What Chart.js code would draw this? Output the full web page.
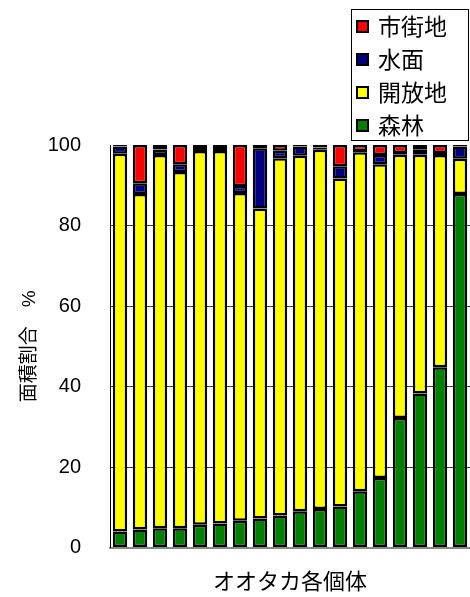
<!DOCTYPE html>
<html>
<head>
<meta charset="utf-8">
<script src="https://cdn.jsdelivr.net/npm/chart.js@4"></script>
<style>
  html, body { margin: 0; padding: 0; background: #fff; }
  #wrap { width: 470px; height: 597px; position: relative; }
</style>
</head>
<body>
<div id="wrap"><canvas id="chart"></canvas></div>
<script>
// one bar per goshawk individual, values in % of home range area
const individuals = ["1", "2", "3", "4", "5", "6", "7", "8", "9", "10", "11", "12", "13", "14", "15", "16", "17", "18"];
const forest = [4.0, 4.5, 4.8, 4.8, 5.7, 6.0, 6.7, 7.2, 8.0, 9.0, 9.6, 10.2, 14.0, 17.3, 32.2, 38.3, 44.8, 87.8];
const openLand = [93.8, 83.3, 92.7, 88.5, 92.8, 92.5, 81.4, 77.0, 88.7, 88.3, 89.2, 81.5, 84.2, 77.9, 65.4, 59.3, 52.7, 8.8];
const water = [1.8, 2.7, 1.4, 1.9, 1.0, 0.5, 1.7, 15.0, 1.9, 2.3, 0.6, 3.0, 0.3, 2.3, 0.4, 1.2, 0.5, 3.0];
const urban = [0.4, 9.5, 1.1, 4.8, 0.5, 1.0, 10.2, 0.8, 1.4, 0.4, 0.6, 5.3, 1.5, 2.5, 2.0, 1.2, 2.0, 0.4];
const yTicks = [0, 20, 40, 60, 80, 100];

const FONT = "'Liberation Sans', Arial, 'Noto Sans CJK JP', sans-serif";

function segment(label, data, color) {
  return {
    label,
    data,
    backgroundColor: color,
    borderColor: "#000",
    borderWidth: 2.5,
    borderSkipped: false,
    barPercentage: 0.72,
    categoryPercentage: 1.0
  };
}

/* -----------------------------------------------
   Boxed legend in the top right corner
   (top entry = top of the stack)
------------------------------------------------ */
const boxLegend = {
  id: "boxLegend",
  afterDraw(chart) {
    const ctx = chart.ctx;
    const items = chart.data.datasets.slice().reverse();
    const x0 = 351, y0 = 9, w = 117, h = 131;
    ctx.save();
    ctx.strokeStyle = "#000";
    ctx.lineWidth = 1;
    ctx.strokeRect(x0 + 0.5, y0 + 0.5, w, h);
    ctx.font = "23px 'Noto Sans CJK JP', sans-serif";
    ctx.textBaseline = "middle";
    items.forEach((ds, i) => {
      const cy = y0 + 17 + i * 33;
      ctx.fillStyle = ds.backgroundColor;
      ctx.fillRect(x0 + 6, cy - 5, 11, 11);
      ctx.lineWidth = 2;
      ctx.strokeRect(x0 + 6, cy - 5, 11, 11);
      ctx.fillStyle = "#000";
      ctx.fillText(ds.label, x0 + 27, cy);
    });
    ctx.restore();
  }
};

new Chart(document.getElementById("chart"), {
  type: "bar",
  data: {
    labels: individuals,
    datasets: [
      segment("森林", forest, "#008000"),
      segment("開放地", openLand, "#FFFF00"),
      segment("水面", water, "#000080"),
      segment("市街地", urban, "#FF0000")
    ]
  },
  options: {
    responsive: true,
    maintainAspectRatio: false,
    animation: false,
    layout: { padding: { top: 145, right: 0, left: 0, bottom: 0 } },
    plugins: {
      legend: { display: false },
      tooltip: { enabled: false }
    },
    scales: {
      x: {
        stacked: true,
        grid: { display: false, drawTicks: false },
        border: { display: true, color: "#888", width: 2 },
        ticks: { display: false },
        title: {
          display: true,
          text: "オオタカ各個体",
          color: "#000",
          font: { family: FONT, size: 22 },
          padding: { top: 22, bottom: 1 }
        }
      },
      y: {
        stacked: true,
        min: 0,
        max: 100,
        afterBuildTicks: axis => {
          axis.ticks = yTicks.map(v => ({ value: v }));
        },
        afterFit: axis => { axis.width = 110; },
        grid: {
          color: ctx => (ctx.tick.value === 0 || ctx.tick.value === 100) ? "rgba(0,0,0,0)" : "#444",
          lineWidth: 1,
          drawTicks: false
        },
        border: { display: true, color: "#000", width: 1 },
        ticks: {
          color: "#000",
          padding: 29,
          font: { family: FONT, size: 20 }
        },
        title: {
          display: true,
          text: "面積割合　%",
          color: "#000",
          font: { family: FONT, size: 19 },
          padding: { top: 18, bottom: 8 }
        }
      }
    }
  },
  plugins: [boxLegend]
});
</script>
</body>
</html>
